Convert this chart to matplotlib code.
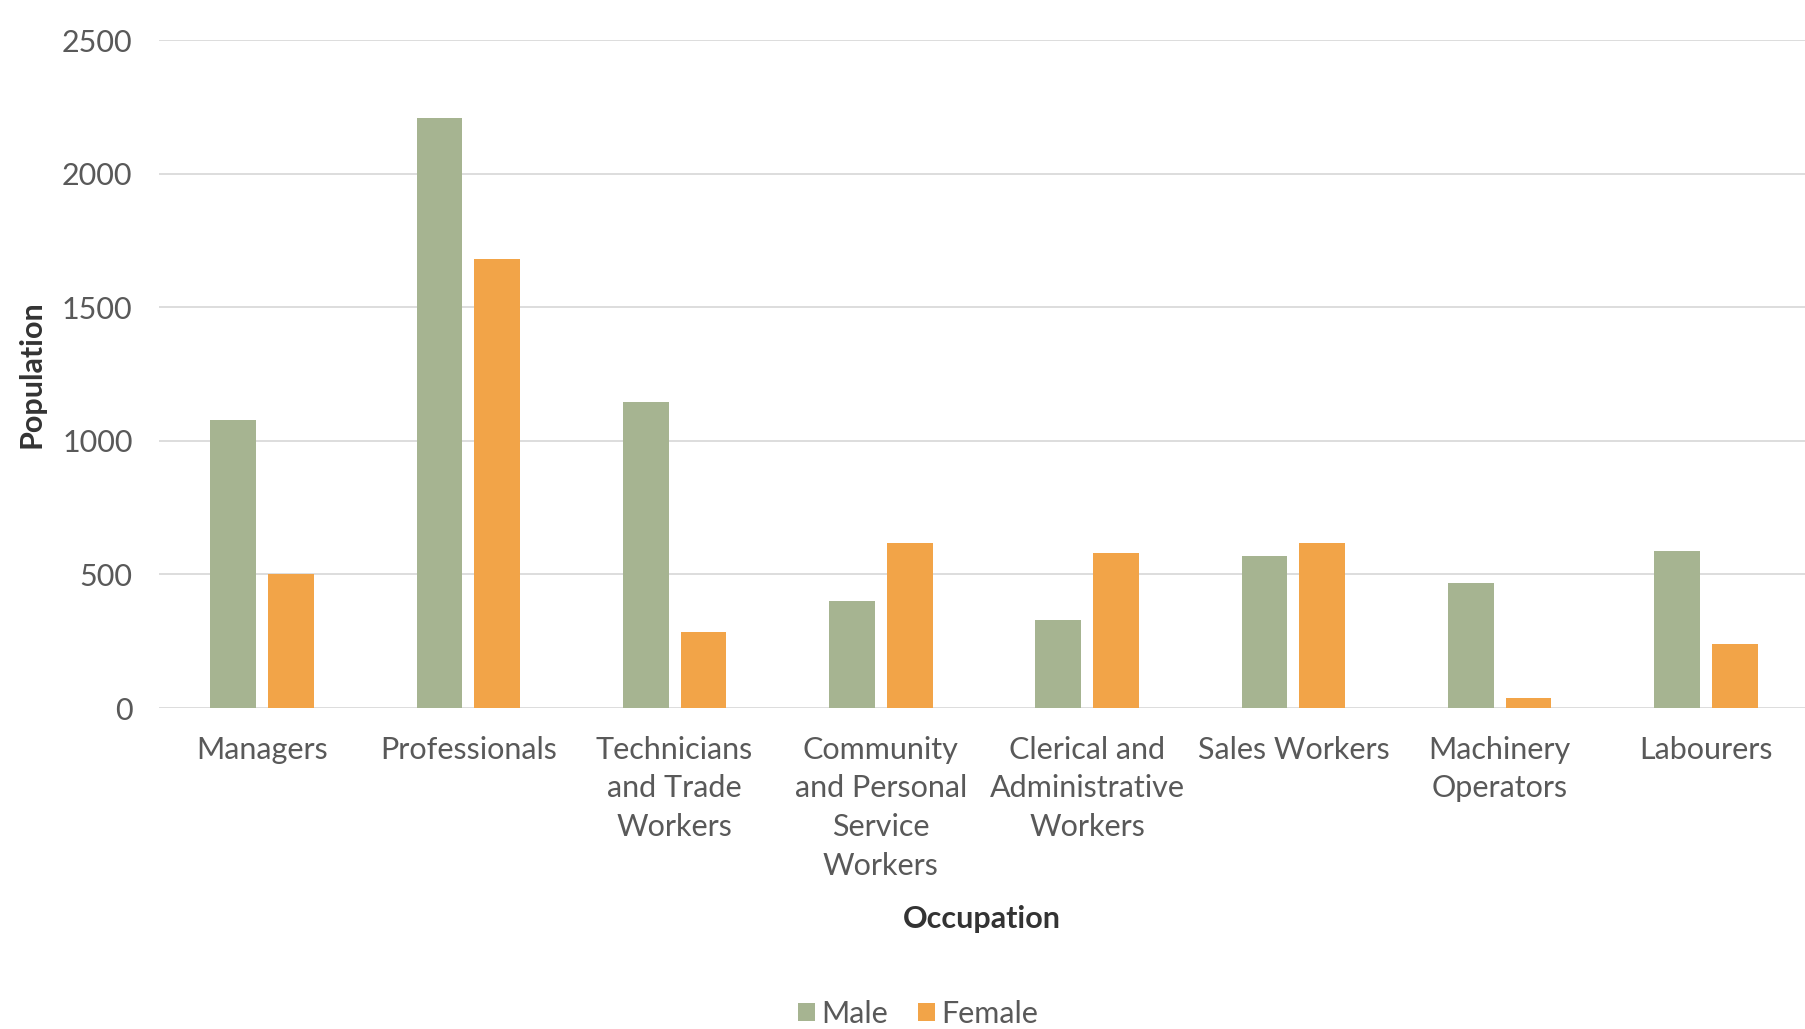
import matplotlib
matplotlib.use("Agg")
import matplotlib.pyplot as plt
import numpy as np

categories = ["Managers", "Professionals", "Technicians\nand Trade\nWorkers",
              "Community\nand Personal\nService\nWorkers", "Clerical and\nAdministrative\nWorkers",
              "Sales Workers", "Machinery\nOperators", "Labourers"]
male = [1080, 2210, 1147, 399, 328, 568, 469, 586]
female = [503, 1683, 286, 616, 580, 616, 37, 240]
yticks = [0, 500, 1000, 1500, 2000, 2500]

plt.rcParams['font.family'] = ['Lato', 'DejaVu Sans']

W, H = 1806, 1029
fig = plt.figure(figsize=(W / 100, H / 100), dpi=100)
left, right_px = 159, 159 + 1650
top, base = 40.3, 708
ax = fig.add_axes([left / W, 1 - base / H, (right_px - left) / W, (base - top) / H])

x = np.arange(len(categories))
bw = 0.223
off = 0.14
ax.bar(x - off, male, bw, color="#A6B491", label="Male", zorder=3)
ax.bar(x + off, female, bw, color="#F2A448", label="Female", zorder=3)

ax.set_xlim(-0.5, len(categories) - 0.5)
ax.set_ylim(0, 2500)
ax.set_yticks(yticks)
ax.set_yticklabels([str(v) for v in yticks])
ax.set_xticks(x)
ax.set_xticklabels(categories, linespacing=1.46)
ax.tick_params(axis='both', length=0, labelsize=22, labelcolor="#595959")
ax.tick_params(axis='y', pad=19)
ax.tick_params(axis='x', pad=20)
for lbl in ax.get_xticklabels():
    lbl.set_verticalalignment('top')
ax.grid(axis='y', color="#DADADA", linewidth=1.3, zorder=0)
for s in ax.spines.values():
    s.set_visible(False)

fig.text(32 / W, 1 - 374 / H, "Population", rotation=90, ha='center', va='center',
         fontsize=22, fontweight='bold', color="#333333")
fig.text(982 / W, 1 - 919 / H, "Occupation", ha='center', va='center',
         fontsize=22, fontweight='bold', color="#333333")

fig.legend(loc='center', bbox_to_anchor=(918 / W, 1 - 1014 / H), ncol=2, frameon=False,
           fontsize=22, handlelength=0.55, handleheight=0.55, handletextpad=0.2,
           columnspacing=1.0, labelcolor="#595959")

fig.savefig("out.png", dpi=100, facecolor="white")
